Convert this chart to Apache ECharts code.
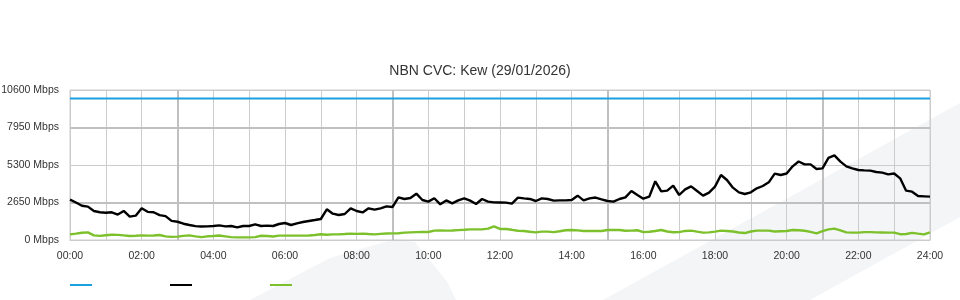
<!DOCTYPE html>
<html>
<head>
<meta charset="utf-8">
<script src="https://cdn.jsdelivr.net/npm/echarts@6/dist/echarts.min.js"></script>
<style>
  html, body { margin: 0; padding: 0; background: #fff; }
  #chart { width: 960px; height: 300px; }
</style>
</head>
<body>
<div id="chart"></div>
<script>
// ---- data (10-minute samples from 00:00 to 24:00) ----
const sampleMinutes = 10;
const capacityMbps = 10000;
const downloadMbps = [
  2850, 2650, 2420, 2360, 2050, 1960, 1930, 1960, 1800, 2050, 1650, 1720,
  2250, 1990, 1960, 1760, 1690, 1350, 1290, 1150, 1060, 980, 950, 960,
  990, 1036, 966, 989, 895, 989, 989, 1107, 989, 1013, 989, 1131,
  1201, 1060, 1178, 1272, 1343, 1413, 1484, 2167, 1861, 1767, 1837, 2238,
  2049, 1950, 2240, 2144, 2238, 2379, 2332, 3015, 2897, 2968, 3274, 2827,
  2709, 2950, 2520, 2800, 2591, 2803, 2944, 2780, 2544, 2897, 2709, 2662,
  2650, 2638, 2568, 2992, 2944, 2900, 2756, 2944, 2897, 2780, 2803, 2803,
  2827, 3133, 2803, 2944, 3000, 2874, 2756, 2709, 2897, 3015, 3463, 3180,
  2921, 3062, 4150, 3439, 3486, 3840, 3180, 3580, 3793, 3463, 3133, 3345,
  3769, 4590, 4240, 3698, 3368, 3251, 3368, 3651, 3816, 4075, 4688, 4593,
  4700, 5206, 5550, 5347, 5347, 5017, 5065, 5800, 5980, 5536, 5206, 5065,
  4947, 4923, 4900, 4805, 4758, 4641, 4700, 4358, 3486, 3416, 3109, 3086,
  3062
];
const uploadMbps = [
  400, 448, 510, 542, 330, 290, 340, 370, 360, 330, 283, 300,
  330, 306, 320, 353, 260, 220, 236, 290, 330, 260, 200, 260,
  283, 320, 260, 200, 188, 188, 188, 200, 300, 283, 250, 306,
  306, 306, 306, 306, 320, 353, 410, 370, 400, 400, 420, 448,
  430, 448, 420, 400, 430, 460, 471, 480, 518, 542, 555, 565,
  565, 660, 683, 660, 670, 700, 720, 754, 754, 754, 800, 960,
  780, 777, 720, 650, 636, 580, 542, 589, 589, 560, 620, 690,
  707, 680, 636, 636, 636, 636, 707, 707, 707, 650, 660, 690,
  560, 580, 636, 707, 600, 550, 560, 640, 660, 589, 520, 542,
  589, 660, 636, 600, 530, 490, 600, 660, 660, 660, 600, 620,
  636, 707, 690, 650, 570, 471, 620, 754, 800, 680, 540, 518,
  518, 560, 560, 540, 530, 518, 518, 410, 424, 500, 448, 400,
  540
];
const hourLabels = ['00:00','02:00','04:00','06:00','08:00','10:00','12:00',
                    '14:00','16:00','18:00','20:00','22:00','24:00'];
const yTicks = [0, 2650, 5300, 7950, 10600];
const majorHours = [3, 9, 15, 21];
const majorLevels = [2650, 7950];
const titleText = 'NBN CVC: Kew (29/01/2026)';
const seriesNames = ['Capacity', 'Download', 'Upload'];

// ---- build ----
const toHour = i => i * sampleMinutes / 60;
const dl = downloadMbps.map((v, i) => [toHour(i), v]);
const ul = uploadMbps.map((v, i) => [toHour(i), v]);
const cap = [[0, capacityMbps], [24, capacityMbps]];

const font = "'Liberation Sans', Arial, sans-serif";
const chart = echarts.init(document.getElementById('chart'), null, { renderer: 'canvas' });

const legendBase = {
  top: 284, itemWidth: 22, itemHeight: 2, icon: 'rect',
  formatter: () => '', selectedMode: false, padding: 0,
  textStyle: { fontSize: 1 }
};

chart.setOption({
  animation: false,
  backgroundColor: '#ffffff',
  textStyle: { fontFamily: font },
  title: {
    text: titleText, left: 'center', top: 59,
    textStyle: { fontSize: 14, fontWeight: 'normal', color: '#333', fontFamily: font }
  },
  graphic: [
    { type: 'polygon', z: -100, silent: true,
      shape: { points: [[603, 300], [960, 103], [960, 217], [810, 300]] },
      style: { fill: '#f4f5f7' } },
    { type: 'polygon', z: -100, silent: true,
      shape: { points: [[250, 300], [330, 258], [395, 239], [415, 242], [448, 283], [456, 300]] },
      style: { fill: '#f4f5f7' } }
  ],
  legend: [
    Object.assign({ left: 70, data: [seriesNames[0]] }, legendBase),
    Object.assign({ left: 170, data: [seriesNames[1]] }, legendBase),
    Object.assign({ left: 270, data: [seriesNames[2]] }, legendBase)
  ],
  grid: { left: 70, right: 30, top: 90, bottom: 60, show: true,
          containLabel: false, outerBoundsMode: 'none',
          borderColor: '#cccccc', borderWidth: 1, backgroundColor: 'transparent' },
  xAxis: {
    type: 'value', min: 0, max: 24, interval: 1,
    axisLine: { show: true, lineStyle: { color: '#cccccc' } },
    axisTick: { show: false },
    axisLabel: {
      margin: 11, fontSize: 10.5, color: '#333', fontFamily: font,
      formatter: v => (v % 2 === 0 ? hourLabels[v / 2] : '')
    },
    splitLine: { show: true, lineStyle: { color: '#cccccc', width: 1 } }
  },
  yAxis: {
    type: 'value', min: yTicks[0], max: yTicks[yTicks.length - 1], interval: yTicks[1] - yTicks[0],
    axisLine: { show: false },
    axisTick: { show: false },
    axisLabel: { margin: 11, fontSize: 10.5, color: '#333', fontFamily: font,
                 formatter: v => v + ' Mbps' },
    splitLine: { show: true, lineStyle: { color: '#cccccc', width: 1 } }
  },
  series: [
    {
      name: seriesNames[0], type: 'line', data: cap, showSymbol: false,
      lineStyle: { color: '#1ba1e2', width: 2 }, itemStyle: { color: '#1ba1e2' },
      z: 3,
      markLine: {
        silent: true, symbol: 'none', label: { show: false }, z: 1,
        lineStyle: { color: '#c0c0c0', width: 2, type: 'solid' },
        data: majorHours.map(h => ({ xAxis: h })).concat(majorLevels.map(v => ({ yAxis: v })))
      }
    },
    {
      name: seriesNames[1], type: 'line', data: dl, showSymbol: false,
      lineStyle: { color: '#000000', width: 2.4 }, itemStyle: { color: '#000000' }, z: 4
    },
    {
      name: seriesNames[2], type: 'line', data: ul, showSymbol: false,
      lineStyle: { color: '#7cc12c', width: 2.4 }, itemStyle: { color: '#7cc12c' }, z: 4
    }
  ]
});
</script>
</body>
</html>
